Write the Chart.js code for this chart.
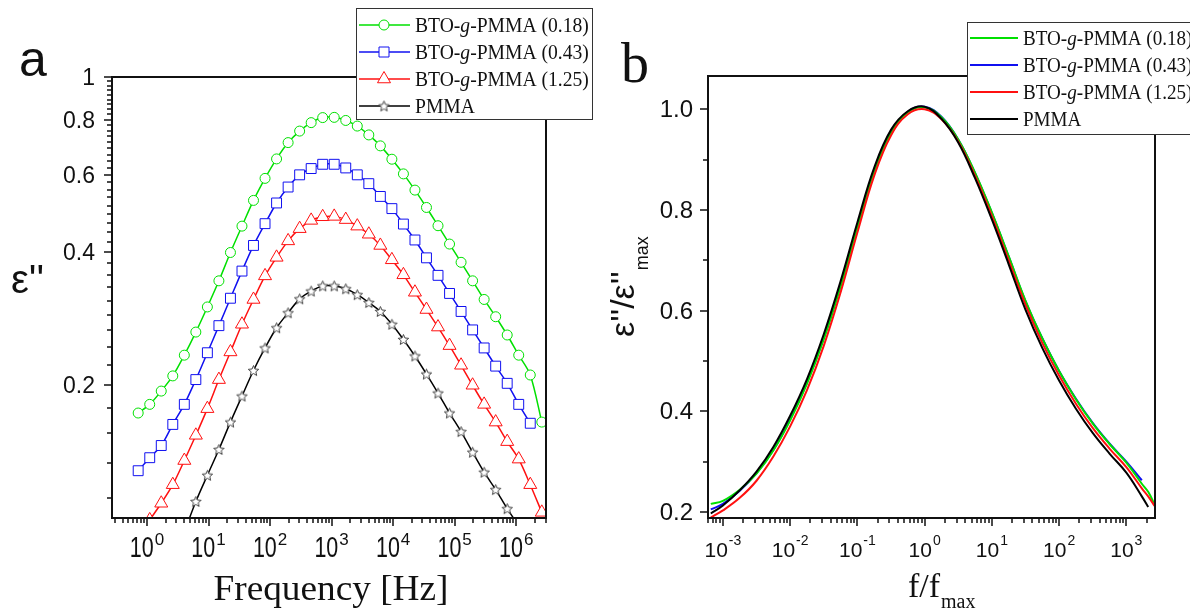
<!DOCTYPE html>
<html>
<head>
<meta charset="utf-8">
<script src="https://cdn.jsdelivr.net/npm/chart.js@4.4.1/dist/chart.umd.min.js"></script>
<style>
  html, body { margin: 0; padding: 0; background: #fff; }
  #wrap { position: relative; width: 1190px; height: 611px; overflow: hidden; }
  #wrap canvas { position: absolute; left: 0; top: 0; }
</style>
</head>
<body>
<div id="wrap">
  <canvas id="chart-a" width="1190" height="611"></canvas>
  <canvas id="chart-b" width="1190" height="611"></canvas>
</div>
<script>
(function () {
  'use strict';

  // ---- panel a: eps'' vs frequency ----
  const freqHz = [0.719, 1.108, 1.705, 2.626, 4.043, 6.223, 9.58, 14.75, 22.71, 34.96, 53.8, 82.9,
    127.6, 196.5, 302.4, 465.6, 716.8, 1103, 1699, 2616, 4027, 6200, 9546, 14697, 22627, 34834,
    53630, 82565, 127115, 195700, 301300, 463900, 714200, 1099500, 1693000, 2606000];

  const epsBTO018 = [0.173, 0.181, 0.194, 0.210, 0.234, 0.264, 0.301, 0.345, 0.400, 0.459, 0.525, 0.589,
    0.652, 0.710, 0.754, 0.788, 0.809, 0.810, 0.797, 0.774, 0.739, 0.698, 0.651, 0.603, 0.554, 0.506,
    0.460, 0.418, 0.380, 0.345, 0.313, 0.286, 0.260, 0.234, 0.211, 0.165];
  const epsBTO043 = [0.128, 0.137, 0.146, 0.163, 0.181, 0.206, 0.237, 0.273, 0.315, 0.363, 0.415, 0.465,
    0.518, 0.563, 0.600, 0.620, 0.634, 0.634, 0.622, 0.600, 0.573, 0.536, 0.503, 0.464, 0.427, 0.389,
    0.355, 0.323, 0.294, 0.267, 0.243, 0.221, 0.202, 0.181, 0.164, null];
  const epsBTO125 = [null, 0.099, 0.108, 0.119, 0.135, 0.154, 0.177, 0.206, 0.238, 0.275, 0.313, 0.354,
    0.390, 0.425, 0.453, 0.473, 0.482, 0.483, 0.475, 0.459, 0.440, 0.415, 0.385, 0.356, 0.325, 0.297,
    0.271, 0.246, 0.222, 0.200, 0.181, 0.165, 0.149, 0.136, 0.119, 0.103];
  const epsPMMA = [null, null, null, null, 0.093, 0.109, 0.125, 0.143, 0.165, 0.189, 0.216, 0.243,
    0.270, 0.292, 0.314, 0.327, 0.336, 0.336, 0.331, 0.321, 0.308, 0.294, 0.275, 0.254, 0.233, 0.212,
    0.192, 0.173, 0.157, 0.141, 0.127, 0.116, 0.105, 0.096, null, null];

  // ---- panel b: normalised eps'' vs f/fmax ----
  const fOverFmax = [6.6e-4, 1e-3, 1.78e-3, 3.16e-3, 5.62e-3, 0.01, 0.0178, 0.0316, 0.0562, 0.1, 0.178,
    0.316, 0.562, 1, 1.78, 3.16, 5.62, 10, 17.8, 31.6, 56.2, 100, 178, 316, 562, 1000, 1700, 2113, 2630];

  const normBTO018 = [0.216, 0.222, 0.244, 0.276, 0.322, 0.382, 0.455, 0.543, 0.648, 0.766, 0.877, 0.954,
    0.994, 1.004, 0.984, 0.940, 0.874, 0.795, 0.708, 0.620, 0.545, 0.480, 0.424, 0.376, 0.335, 0.298,
    0.256, 0.240, 0.215];
  const normBTO043 = [0.205, 0.216, 0.242, 0.277, 0.323, 0.384, 0.457, 0.545, 0.650, 0.768, 0.879, 0.955,
    0.995, 1.005, 0.985, 0.940, 0.873, 0.794, 0.707, 0.619, 0.545, 0.480, 0.425, 0.377, 0.336, 0.300,
    0.263, null, null];
  const normBTO125 = [0.189, 0.203, 0.228, 0.262, 0.310, 0.370, 0.442, 0.530, 0.636, 0.755, 0.868, 0.948,
    0.990, 1.000, 0.980, 0.936, 0.868, 0.788, 0.700, 0.612, 0.536, 0.471, 0.415, 0.367, 0.326, 0.289,
    0.247, 0.231, 0.212];
  const normPMMA = [0.197, 0.213, 0.243, 0.280, 0.329, 0.391, 0.464, 0.553, 0.658, 0.775, 0.884, 0.959,
    0.996, 1.005, 0.981, 0.934, 0.863, 0.781, 0.692, 0.602, 0.526, 0.461, 0.405, 0.357, 0.316, 0.278,
    0.231, 0.210, null];

  // ---- ticks and labels ----
  const xTicksA = [1, 10, 100, 1e3, 1e4, 1e5, 1e6];
  const xExpA = ['0', '1', '2', '3', '4', '5', '6'];
  const yTicksA = [0.2, 0.4, 0.6, 0.8, 1];
  const yLabelsA = ['0.2', '0.4', '0.6', '0.8', '1'];

  const xTicksB = [1e-3, 1e-2, 1e-1, 1, 10, 100, 1e3];
  const xExpB = ['-3', '-2', '-1', '0', '1', '2', '3'];
  const yTicksB = [0.2, 0.4, 0.6, 0.8, 1.0];
  const yLabelsB = ['0.2', '0.4', '0.6', '0.8', '1.0'];
  const yMinorB = [0.3, 0.5, 0.7, 0.9];

  const seriesLabels = ['BTO-g-PMMA (0.18)', 'BTO-g-PMMA (0.43)', 'BTO-g-PMMA (1.25)', 'PMMA'];

  const GREEN = '#00e000';
  const BLUE = '#1010f0';
  const RED = '#ff1010';
  const BLACK = '#000000';
  const SANS = '"Liberation Sans", Arial, sans-serif';
  const SERIF = '"Liberation Serif", "Times New Roman", serif';

  // hollow five-point star used as marker for PMMA
  function makeStar(size) {
    const c = document.createElement('canvas');
    c.width = c.height = size;
    const g = c.getContext('2d');
    const R = size / 2 - 1, r = R * 0.45, m = size / 2;
    g.beginPath();
    for (let i = 0; i < 10; i++) {
      const ang = -Math.PI / 2 + i * Math.PI / 5;
      const rr = i % 2 ? r : R;
      g.lineTo(m + rr * Math.cos(ang), m + rr * Math.sin(ang) + 0.5);
    }
    g.closePath();
    g.fillStyle = '#fff';
    g.fill();
    g.strokeStyle = '#444';
    g.lineWidth = 1;
    g.stroke();
    return c;
  }
  const star = makeStar(13);

  function pts(xs, ys) {
    return xs.map(function (x, i) { return { x: x, y: ys[i] }; });
  }

  // text drawn with a horizontal stretch so it spans a given width
  function fillStretched(ctx, text, x, y, sx, align) {
    const w = ctx.measureText(text).width * sx;
    let left = x;
    if (align === 'center') left = x - w / 2;
    if (align === 'right') left = x - w;
    ctx.save();
    ctx.translate(left, y);
    ctx.scale(sx, 1);
    ctx.textAlign = 'left';
    ctx.fillText(text, 0, 0);
    ctx.restore();
    return w;
  }

  function powerLabel(ctx, exp, cx, baseY, baseFont, sx, supFont, supRise) {
    ctx.font = baseFont;
    const wb = ctx.measureText('10').width * sx;
    ctx.font = supFont;
    const ws = ctx.measureText(exp).width;
    const left = cx - (wb + ws + 1) / 2;
    ctx.font = baseFont;
    fillStretched(ctx, '10', left, baseY, sx, 'left');
    ctx.font = supFont;
    ctx.textAlign = 'left';
    ctx.fillText(exp, left + wb + 1, baseY - supRise);
  }

  function logMinors(min, max) {
    const out = [];
    for (let n = Math.floor(Math.log10(min)); n <= Math.ceil(Math.log10(max)); n++) {
      for (let m = 2; m <= 9; m++) {
        const v = m * Math.pow(10, n);
        if (v >= min && v <= max) out.push(v);
      }
    }
    return out;
  }

  function drawTicks(ctx, chart, xMajor, xMinor, yMajor, yMinor) {
    const a = chart.chartArea, xs = chart.scales.x, ys = chart.scales.y;
    ctx.strokeStyle = '#111';
    ctx.lineWidth = 1.5;
    ctx.beginPath();
    xMajor.forEach(function (v) { const p = Math.round(xs.getPixelForValue(v)); ctx.moveTo(p, a.bottom); ctx.lineTo(p, a.bottom + 8); });
    xMinor.forEach(function (v) { const p = Math.round(xs.getPixelForValue(v)); ctx.moveTo(p, a.bottom); ctx.lineTo(p, a.bottom + 5); });
    yMajor.forEach(function (v) { const p = Math.round(ys.getPixelForValue(v)); ctx.moveTo(a.left, p); ctx.lineTo(a.left - 8, p); });
    yMinor.forEach(function (v) { const p = Math.round(ys.getPixelForValue(v)); ctx.moveTo(a.left, p); ctx.lineTo(a.left - 5, p); });
    ctx.stroke();
  }

  function drawFrame(ctx, a) {
    ctx.strokeStyle = '#111';
    ctx.lineWidth = 2;
    ctx.strokeRect(a.left, a.top, a.right - a.left, a.bottom - a.top);
  }

  // legend label with the italic "g"; sx squeezes the text horizontally
  function seriesText(ctx, label, x, baseline, sx) {
    const m = label.match(/^(BTO-)(g)(-.*)$/);
    ctx.save();
    ctx.translate(x, baseline);
    ctx.scale(sx, 1);
    ctx.fillStyle = '#111';
    ctx.textAlign = 'left';
    ctx.font = '20px ' + SERIF;
    if (!m) {
      ctx.fillText(label, 0, 0);
    } else {
      ctx.fillText(m[1], 0, 0);
      let w = ctx.measureText(m[1]).width;
      ctx.font = 'italic 20px ' + SERIF;
      ctx.fillText(m[2], w, 0);
      w += ctx.measureText(m[2]).width;
      ctx.font = '20px ' + SERIF;
      ctx.fillText(m[3], w, 0);
    }
    ctx.restore();
  }

  function marker(ctx, style, color, x, y) {
    ctx.save();
    ctx.strokeStyle = color;
    ctx.fillStyle = '#fff';
    ctx.lineWidth = 1;
    ctx.beginPath();
    if (style === 'circle') {
      ctx.arc(x, y, 5, 0, Math.PI * 2);
    } else if (style === 'rect') {
      ctx.rect(x - 5, y - 5, 10, 10);
    } else if (style === 'triangle') {
      ctx.moveTo(x, y - 7.5);
      ctx.lineTo(x + 6.5, y + 3.75);
      ctx.lineTo(x - 6.5, y + 3.75);
      ctx.closePath();
    }
    if (style === 'star') {
      ctx.drawImage(star, x - star.width / 2, y - star.height / 2);
    } else {
      ctx.fill();
      ctx.stroke();
    }
    ctx.restore();
  }

  // ================= panel a =================
  const styleA = [
    { data: epsBTO018, color: GREEN, pointStyle: 'circle', radius: 5 },
    { data: epsBTO043, color: BLUE, pointStyle: 'rect', radius: 7 },
    { data: epsBTO125, color: RED, pointStyle: 'triangle', radius: 7.5 },
    { data: epsPMMA, color: BLACK, pointStyle: star, radius: 6 }
  ];

  const panelA = {
    id: 'panelA',
    afterDraw: function (chart) {
      const ctx = chart.ctx, a = chart.chartArea, xs = chart.scales.x, ys = chart.scales.y;
      ctx.save();
      drawFrame(ctx, a);

      const yMinor = [];
      for (let k = 5; k <= 45; k++) {
        if (k % 9 !== 0) yMinor.push(k * 0.2 / 9);
      }
      drawTicks(ctx, chart, xTicksA, logMinors(xs.min, xs.max), yTicksA, yMinor.filter(function (v) { return v <= 1; }));

      ctx.fillStyle = '#111';
      ctx.font = '23px ' + SANS;
      ctx.textAlign = 'right';
      yTicksA.forEach(function (v, i) {
        ctx.fillText(yLabelsA[i], 95, ys.getPixelForValue(v) + 8);
      });
      xTicksA.forEach(function (v, i) {
        powerLabel(ctx, xExpA[i], xs.getPixelForValue(v), 557, '29px ' + SANS, 0.74, '17px ' + SANS, 12);
      });

      // axis titles and panel letter
      ctx.textAlign = 'left';
      ctx.font = '40px ' + SANS;
      ctx.fillText('\u03b5\'\'', 11, 293);
      ctx.font = '50px ' + SANS;
      ctx.fillText('a', 19, 76);
      ctx.font = '35px ' + SERIF;
      const tw = ctx.measureText('Frequency [Hz]').width;
      fillStretched(ctx, 'Frequency [Hz]', 331, 600, 235 / tw, 'center');

      // legend box
      ctx.fillStyle = '#fff';
      ctx.fillRect(356, 8, 236, 111);
      ctx.strokeStyle = '#333';
      ctx.lineWidth = 1;
      ctx.strokeRect(356.5, 8.5, 236, 111);
      const rows = [25, 52, 79, 106];
      const mk = ['circle', 'rect', 'triangle', 'star'];
      styleA.forEach(function (s, i) {
        ctx.strokeStyle = s.color;
        ctx.lineWidth = 1.5;
        ctx.beginPath();
        ctx.moveTo(359, rows[i]);
        ctx.lineTo(410, rows[i]);
        ctx.stroke();
        marker(ctx, mk[i], s.color, 384, rows[i]);
        seriesText(ctx, seriesLabels[i], 415, rows[i] + 7, 0.98);
      });
      ctx.restore();
    }
  };

  new Chart(document.getElementById('chart-a'), {
    type: 'line',
    data: {
      datasets: styleA.map(function (s, i) {
        return {
          label: seriesLabels[i],
          data: pts(freqHz, s.data),
          borderColor: s.color,
          borderWidth: 1.5,
          tension: 0.3,
          pointStyle: s.pointStyle,
          pointRadius: s.radius,
          pointBorderWidth: 1,
          pointBorderColor: s.color,
          pointBackgroundColor: '#fff'
        };
      })
    },
    options: {
      responsive: false,
      animation: false,
      devicePixelRatio: 1,
      events: [],
      layout: { padding: { left: 112, top: 77, right: 644, bottom: 93 } },
      plugins: { legend: { display: false }, tooltip: { enabled: false } },
      scales: {
        x: { type: 'logarithmic', min: 0.27, max: 3.05e6, display: false },
        y: { type: 'logarithmic', min: 0.1, max: 1, display: false }
      }
    },
    plugins: [panelA]
  });

  // ================= panel b =================
  const styleB = [
    { data: normPMMA, color: BLACK, row: 3 },
    { data: normBTO125, color: RED, row: 2 },
    { data: normBTO018, color: GREEN, row: 0 },
    { data: normBTO043, color: BLUE, row: 1 }
  ];

  const panelB = {
    id: 'panelB',
    afterDraw: function (chart) {
      const ctx = chart.ctx, a = chart.chartArea, xs = chart.scales.x, ys = chart.scales.y;
      ctx.save();
      drawFrame(ctx, a);
      drawTicks(ctx, chart, xTicksB, logMinors(xs.min, xs.max), yTicksB, yMinorB);

      ctx.fillStyle = '#111';
      ctx.font = '24px ' + SANS;
      ctx.textAlign = 'right';
      yTicksB.forEach(function (v, i) {
        ctx.fillText(yLabelsB[i], 693, ys.getPixelForValue(v) + 8);
      });
      xTicksB.forEach(function (v, i) {
        powerLabel(ctx, xExpB[i], xs.getPixelForValue(v), 557, '21px ' + SANS, 1, '14px ' + SANS, 12);
      });

      // panel letter
      ctx.textAlign = 'left';
      ctx.font = '56px ' + SERIF;
      ctx.fillText('b', 621, 82);

      // x title f/f_max
      ctx.font = '34px ' + SERIF;
      ctx.fillText('f/f', 908, 597);
      ctx.font = '20px ' + SERIF;
      ctx.fillText('max', 941, 608);

      // rotated y title
      ctx.save();
      ctx.translate(634, 337);
      ctx.rotate(-Math.PI / 2);
      ctx.font = '34px ' + SANS;
      ctx.fillText('\u03b5\'\'/\u03b5\'\'', 0, 0);
      const w = ctx.measureText('\u03b5\'\'/\u03b5\'\'').width;
      ctx.font = '18px ' + SANS;
      ctx.fillText('max', w + 1, 14);
      ctx.restore();

      // legend box
      ctx.fillStyle = '#fff';
      ctx.fillRect(967, 22, 240, 112);
      ctx.strokeStyle = '#333';
      ctx.lineWidth = 1;
      ctx.strokeRect(967.5, 22.5, 240, 112);
      const rows = [38, 65, 92, 119];
      [GREEN, BLUE, RED, BLACK].forEach(function (c, i) {
        ctx.strokeStyle = c;
        ctx.lineWidth = 2;
        ctx.beginPath();
        ctx.moveTo(970, rows[i]);
        ctx.lineTo(1018, rows[i]);
        ctx.stroke();
        seriesText(ctx, seriesLabels[i], 1023, rows[i] + 7, 0.955);
      });
      ctx.restore();
    }
  };

  new Chart(document.getElementById('chart-b'), {
    type: 'line',
    data: {
      datasets: styleB.map(function (s) {
        return {
          label: seriesLabels[s.row],
          data: pts(fOverFmax, s.data),
          borderColor: s.color,
          borderWidth: 2,
          tension: 0.4,
          pointRadius: 0
        };
      })
    },
    options: {
      responsive: false,
      animation: false,
      devicePixelRatio: 1,
      events: [],
      layout: { padding: { left: 708, top: 76, right: 35, bottom: 93 } },
      plugins: { legend: { display: false }, tooltip: { enabled: false } },
      scales: {
        x: { type: 'logarithmic', min: 6.2e-4, max: 2670, display: false },
        y: { type: 'linear', min: 0.188, max: 1.066, display: false }
      }
    },
    plugins: [panelB]
  });
})();
</script>
</body>
</html>
